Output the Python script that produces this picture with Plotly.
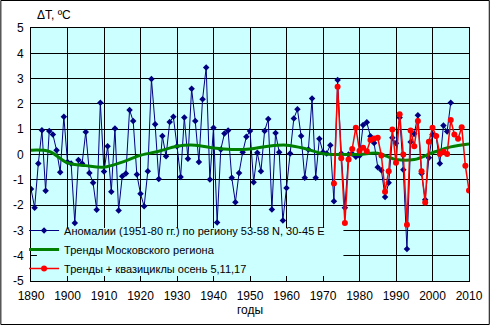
import plotly.graph_objects as go

years_blue = list(range(1890, 2006))
anomalies = [
    -1.36, -2.10, -0.36, 0.96, -1.43, 0.93, 0.79, 0.17, -0.70, 1.49,
    -0.30, -0.36, -2.71, -0.22, -0.36, 0.89, -0.73, -1.12, -2.18, 2.05,
    -0.67, 0.33, -1.47, 1.03, -2.21, -0.86, -0.75, 1.76, 1.32, -0.79,
    -1.55, -2.05, -0.66, 2.98, 1.20, -0.97, 0.73, -0.07, 1.28, 1.49,
    0.33, -0.89, 1.46, -0.17, 2.60, 1.32, -0.30, 2.18, 3.44, -0.99,
    1.06, -2.69, 0.20, 0.83, 0.95, -0.92, -1.89, -0.73, 0.09, 0.70,
    0.93, -1.10, 0.07, -0.66, 0.93, 1.40, -2.17, 0.85, 0.09, -2.61,
    -1.32, 0.04, 1.42, 1.79, 0.73, -0.92, 0.20, 2.21, -0.92, 0.62,
    0.09, 0.04, 0.37, -1.85, 2.94, 0.04, -2.10, 0.00, 0.03, -0.09,
    -0.05, 1.17, 1.27, 0.72, 0.45, -0.50, -0.62, -1.68, -1.12, 0.66,
    0.44, 1.46, -0.60, -3.74, 0.49, 0.82, 1.55, -0.75, -1.79, -0.13,
    0.79, 0.73, -0.36, 1.15, 0.91, 2.05,
]

years_trend = list(range(1890, 2011, 5))
trend = [
    0.17, 0.12, -0.33, -0.44, -0.50, -0.30, -0.03, 0.13, 0.33, 0.37,
    0.26, 0.20, 0.22, 0.33, 0.37, 0.24, 0.03, 0.00, 0.00, 0.05,
    -0.20, -0.20, 0.07, 0.30, 0.42,
]

years_red = list(range(1973, 2011))
cycles = [
    -1.15, 2.68, -0.15, -2.71, -0.20, 0.22, 1.06, 0.15, 0.27, 0.13,
    0.57, 0.63, 0.66, -0.04, -1.47, -0.66, 0.99, -0.33, 1.59, 0.00,
    -2.78, 0.95, 0.33, 1.32, -0.66, -1.90, 0.50, 1.06, 0.73, 0.02,
    0.11, 0.02, 1.36, 0.79, 0.62, 1.08, -0.44, -1.42,
]

x_ticks = list(range(1890, 2011, 10))
y_ticks = list(range(-5, 6))

FONT = "Liberation Sans, Arial, sans-serif"

fig = go.Figure()
fig.add_trace(go.Scatter(
    x=years_blue, y=anomalies, mode="lines+markers",
    name="Аномалии (1951-80 гг.) по региону 53-58 N, 30-45 E",
    line=dict(color="#000080", width=1),
    marker=dict(symbol="diamond", size=5, color="#000080"),
))
fig.add_trace(go.Scatter(
    x=years_trend, y=trend, mode="lines",
    name="Тренды Московского региона",
    line=dict(color="#008000", width=3, shape="spline"),
))
fig.add_trace(go.Scatter(
    x=years_red, y=cycles, mode="lines+markers",
    name="Тренды + квазициклы осень 5,11,17",
    line=dict(color="#FF0000", width=1.5),
    marker=dict(symbol="circle", size=6, color="#FF0000"),
))

L, R, T, B = 31, 21, 28, 44
W, H = 495, 325
pw, ph = W - L - R, H - T - B

shapes = [
    # legend background inside plot
    dict(type="rect", xref="paper", yref="paper",
         x0=(37 - L) / pw, x1=(347 - L) / pw,
         y0=(H - B - 276) / ph, y1=(H - B - 228) / ph,
         fillcolor="#CCFFFF", line=dict(width=0), layer="above"),
    # outer frame
    dict(type="rect", xref="paper", yref="paper",
         x0=(0.5 - L) / pw, x1=(W - 0.5 - L) / pw,
         y0=(H - B - (H - 0.5)) / ph, y1=(H - B - 0.5) / ph,
         fillcolor="rgba(0,0,0,0)", line=dict(color="black", width=1)),
]

fig.update_layout(
    width=W, height=H,
    margin=dict(l=L, r=R, t=T, b=B),
    paper_bgcolor="white",
    plot_bgcolor="#CCFFFF",
    font=dict(family=FONT, size=12, color="black"),
    showlegend=True,
    legend=dict(
        x=(24 - L) / pw, y=(H - B - 283) / ph, xanchor="left", yanchor="bottom",
        bgcolor="rgba(0,0,0,0)", borderwidth=0,
        font=dict(family=FONT, size=11, color="black"),
        tracegroupgap=0,
    ),
    shapes=shapes,
    annotations=[
        dict(text="ΔT, ºC", xref="paper", yref="paper",
             x=(35 - L) / pw, y=(H - B - 15) / ph, xanchor="left", yanchor="middle",
             showarrow=False, font=dict(family=FONT, size=12)),
        dict(text="годы", xref="paper", yref="paper",
             x=(252 - L) / pw, y=(H - B - 310) / ph, xanchor="center", yanchor="middle",
             showarrow=False, font=dict(family=FONT, size=12)),
    ],
)
fig.update_xaxes(
    range=[1890, 2010], tickvals=x_ticks, ticktext=[str(v) for v in x_ticks],
    showgrid=True, gridcolor="black", gridwidth=1,
    showline=True, linecolor="black", linewidth=1, mirror=True,
    zeroline=False, ticks="", ticklabelstandoff=4,
)
fig.update_yaxes(
    range=[-5, 5], tickvals=y_ticks, ticktext=[str(v) for v in y_ticks],
    showgrid=True, gridcolor="black", gridwidth=1,
    showline=True, linecolor="black", linewidth=1, mirror=True,
    zeroline=False, ticks="", ticklabelstandoff=4,
)

fig.write_html("out.html")
